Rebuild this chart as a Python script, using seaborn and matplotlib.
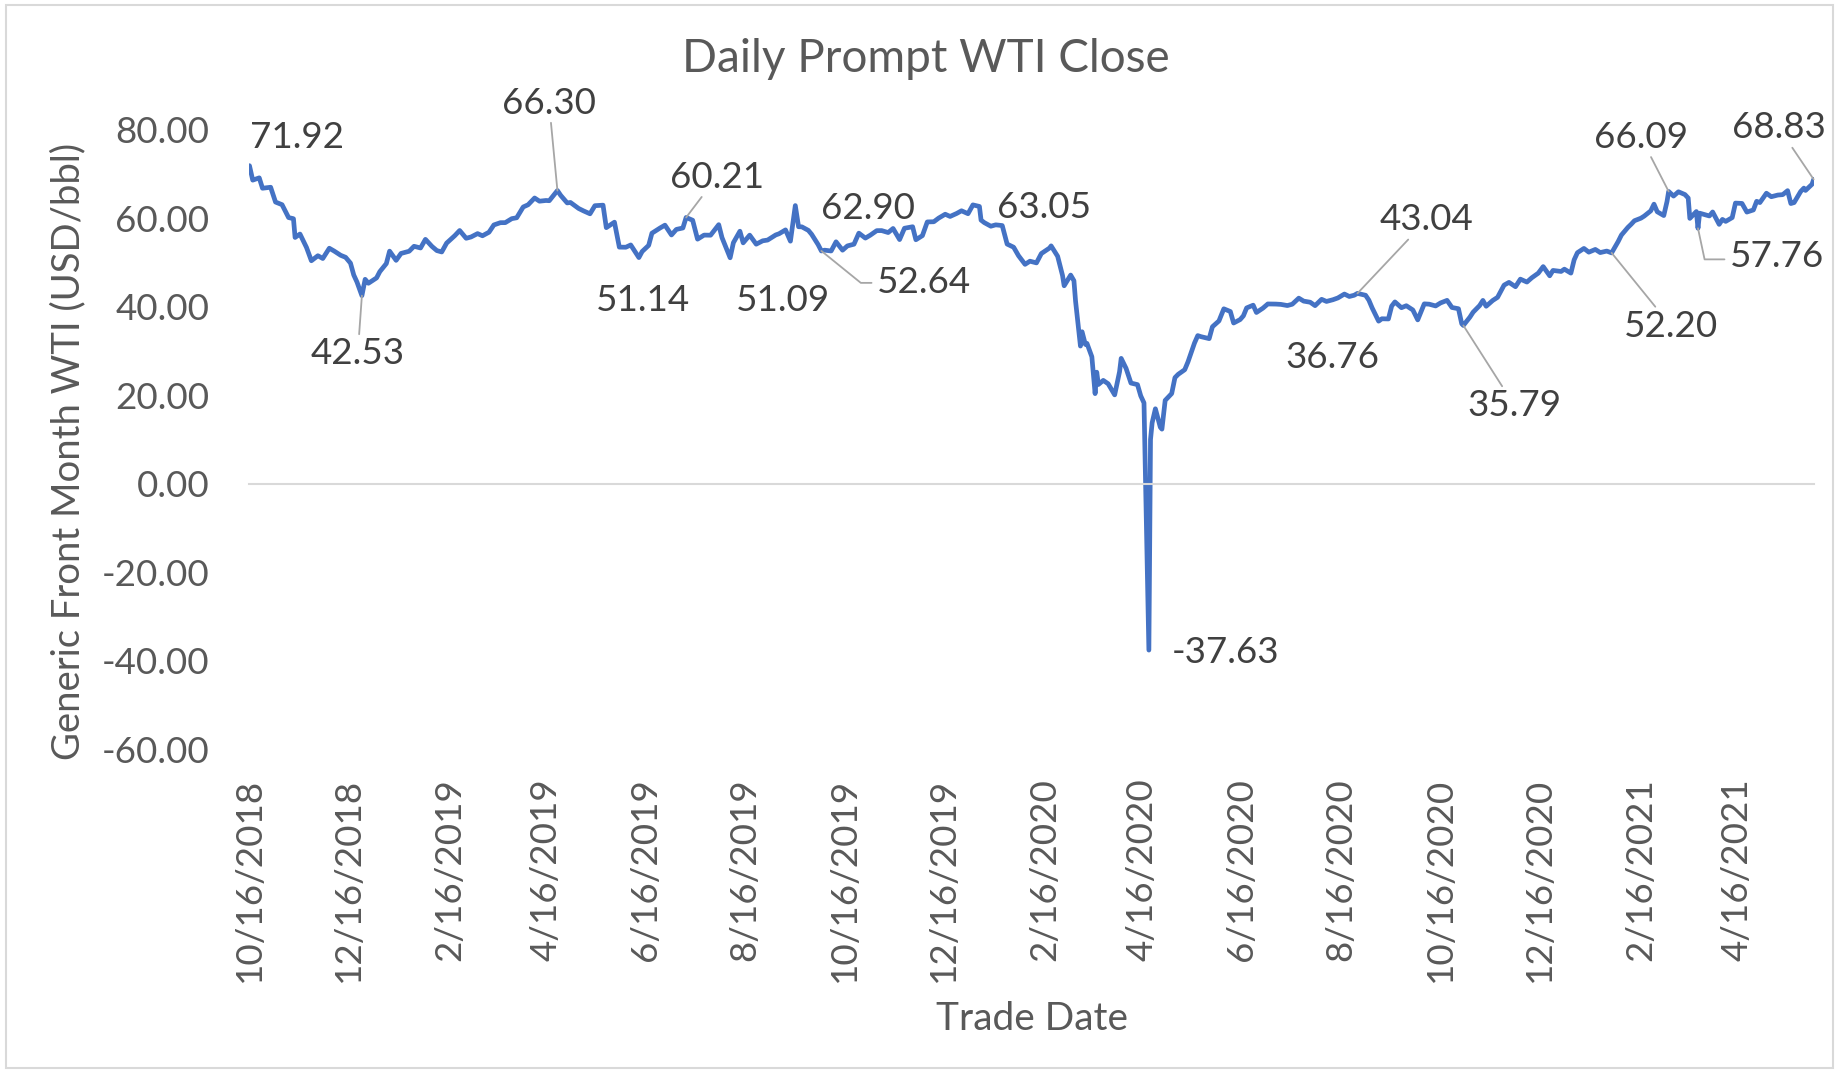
import pandas as pd
import matplotlib
matplotlib.use("Agg")
import matplotlib.pyplot as plt
import matplotlib.dates as mdates
from matplotlib.patches import Rectangle
from matplotlib.ticker import FuncFormatter
import seaborn as sns

# ---------------------------------------------------------
# Datos: cierre diario WTI mes frontal (muestra)
# ---------------------------------------------------------
fechas_2018 = ["2018-10-16", "2018-10-18", "2018-10-22", "2018-10-24", "2018-10-29",
               "2018-11-01", "2018-11-05", "2018-11-09", "2018-11-12", "2018-11-13",
               "2018-11-16", "2018-11-20", "2018-11-23", "2018-11-27", "2018-11-30",
               "2018-12-04", "2018-12-07", "2018-12-11", "2018-12-14", "2018-12-17",
               "2018-12-19", "2018-12-21", "2018-12-24", "2018-12-26", "2018-12-28"]
precios_2018 = [71.92, 68.65, 69.17, 66.82, 67.04,
                63.69, 63.10, 60.19, 59.93, 55.69,
                56.46, 53.43, 50.42, 51.56, 50.93,
                53.25, 52.61, 51.65, 51.20, 49.88,
                47.20, 45.59, 42.53, 46.22, 45.33]

fechas_2019 = ["2019-01-02", "2019-01-04", "2019-01-08", "2019-01-10", "2019-01-14",
               "2019-01-17", "2019-01-22", "2019-01-25", "2019-01-29", "2019-02-01",
               "2019-02-05", "2019-02-08", "2019-02-11", "2019-02-14", "2019-02-19",
               "2019-02-22", "2019-02-26", "2019-03-01", "2019-03-05", "2019-03-08",
               "2019-03-12", "2019-03-15", "2019-03-19", "2019-03-22", "2019-03-26",
               "2019-03-29", "2019-04-02", "2019-04-05", "2019-04-09", "2019-04-12",
               "2019-04-16", "2019-04-18", "2019-04-23", "2019-04-25", "2019-04-29",
               "2019-05-01", "2019-05-06", "2019-05-09", "2019-05-13", "2019-05-16",
               "2019-05-21", "2019-05-23", "2019-05-28", "2019-05-31", "2019-06-04",
               "2019-06-07", "2019-06-12", "2019-06-14", "2019-06-18", "2019-06-20",
               "2019-06-25", "2019-06-28", "2019-07-02", "2019-07-05", "2019-07-09",
               "2019-07-11", "2019-07-15", "2019-07-18", "2019-07-22", "2019-07-26",
               "2019-07-31", "2019-08-02", "2019-08-07", "2019-08-09", "2019-08-13",
               "2019-08-15", "2019-08-19", "2019-08-23", "2019-08-27", "2019-08-30",
               "2019-09-04", "2019-09-06", "2019-09-10", "2019-09-13", "2019-09-16",
               "2019-09-18", "2019-09-20", "2019-09-24", "2019-09-26", "2019-09-30",
               "2019-10-02", "2019-10-04", "2019-10-08", "2019-10-11", "2019-10-15",
               "2019-10-18", "2019-10-22", "2019-10-25", "2019-10-29", "2019-11-01",
               "2019-11-05", "2019-11-08", "2019-11-12", "2019-11-15", "2019-11-19",
               "2019-11-22", "2019-11-27", "2019-11-29", "2019-12-03", "2019-12-06",
               "2019-12-10", "2019-12-13", "2019-12-17", "2019-12-20", "2019-12-24",
               "2019-12-27", "2019-12-31"]
precios_2019 = [46.54, 47.96, 49.78, 52.59, 50.51,
                52.07, 52.57, 53.69, 53.31, 55.26,
                53.66, 52.72, 52.41, 54.41, 56.09,
                57.26, 55.50, 55.80, 56.56, 56.07,
                56.87, 58.52, 59.03, 59.04, 59.94,
                60.14, 62.58, 63.08, 64.61, 63.89,
                64.05, 64.00, 66.30, 65.21, 63.50,
                63.60, 62.25, 61.70, 61.04, 62.87,
                62.99, 57.91, 59.14, 53.50, 53.48,
                53.99, 51.14, 52.51, 53.90, 56.65,
                57.83, 58.47, 56.25, 57.51, 57.83,
                60.21, 59.58, 55.30, 56.22, 56.20,
                58.58, 55.66, 51.09, 54.50, 57.10,
                54.47, 56.21, 54.17, 54.93, 55.10,
                56.26, 56.52, 57.40, 54.85, 62.90,
                58.11, 58.09, 57.29, 56.41, 54.07,
                52.64, 52.81, 52.63, 54.70, 52.81,
                53.78, 54.16, 56.66, 55.54, 56.20,
                57.23, 57.24, 56.80, 57.72, 55.21,
                57.77, 58.11, 55.17, 56.10, 59.20,
                59.24, 60.07, 60.94, 60.44, 61.11,
                61.72, 61.06]

fechas_2020 = ["2020-01-03", "2020-01-07", "2020-01-08", "2020-01-10", "2020-01-14",
               "2020-01-17", "2020-01-21", "2020-01-24", "2020-01-28", "2020-01-31",
               "2020-02-04", "2020-02-07", "2020-02-11", "2020-02-14", "2020-02-19",
               "2020-02-20", "2020-02-24", "2020-02-27", "2020-02-28", "2020-03-03",
               "2020-03-05", "2020-03-06", "2020-03-09", "2020-03-10", "2020-03-12",
               "2020-03-13", "2020-03-16", "2020-03-18", "2020-03-19", "2020-03-20",
               "2020-03-23", "2020-03-26", "2020-03-30", "2020-04-02", "2020-04-03",
               "2020-04-06", "2020-04-09", "2020-04-13", "2020-04-15", "2020-04-17",
               "2020-04-20", "2020-04-21", "2020-04-22", "2020-04-24", "2020-04-27",
               "2020-04-28", "2020-04-30", "2020-05-04", "2020-05-06", "2020-05-08",
               "2020-05-12", "2020-05-14", "2020-05-18", "2020-05-20", "2020-05-22",
               "2020-05-27", "2020-05-29", "2020-06-02", "2020-06-05", "2020-06-09",
               "2020-06-11", "2020-06-15", "2020-06-17", "2020-06-19", "2020-06-23",
               "2020-06-25", "2020-06-29", "2020-07-02", "2020-07-07", "2020-07-10",
               "2020-07-14", "2020-07-17", "2020-07-21", "2020-07-24", "2020-07-28",
               "2020-07-31", "2020-08-04", "2020-08-07", "2020-08-11", "2020-08-14",
               "2020-08-18", "2020-08-21", "2020-08-24", "2020-08-26", "2020-08-31",
               "2020-09-02", "2020-09-04", "2020-09-08", "2020-09-10", "2020-09-14",
               "2020-09-16", "2020-09-18", "2020-09-22", "2020-09-25", "2020-09-29",
               "2020-10-02", "2020-10-06", "2020-10-09", "2020-10-13", "2020-10-16",
               "2020-10-20", "2020-10-23", "2020-10-27", "2020-10-29", "2020-10-30",
               "2020-11-03", "2020-11-05", "2020-11-09", "2020-11-11", "2020-11-13",
               "2020-11-17", "2020-11-20", "2020-11-24", "2020-11-27", "2020-12-01",
               "2020-12-04", "2020-12-08", "2020-12-11", "2020-12-15", "2020-12-18",
               "2020-12-22", "2020-12-24", "2020-12-29", "2020-12-31"]
precios_2020 = [63.05, 62.70, 59.61, 59.04, 58.23,
                58.54, 58.38, 54.19, 53.48, 51.56,
                49.61, 50.32, 49.94, 52.05, 53.29,
                53.78, 51.43, 47.09, 44.76, 47.18,
                45.90, 41.28, 31.13, 34.36, 31.50,
                31.73, 28.70, 20.37, 25.22, 22.43,
                23.36, 22.60, 20.09, 25.32, 28.34,
                26.08, 22.76, 22.41, 19.87, 18.27,
                -37.63, 10.01, 13.78, 16.94, 12.78,
                12.34, 18.84, 20.39, 23.99, 24.74,
                25.78, 27.56, 31.82, 33.49, 33.25,
                32.81, 35.49, 36.81, 39.55, 38.94,
                36.34, 37.12, 37.96, 39.75, 40.37,
                38.72, 39.70, 40.65, 40.62, 40.55,
                40.29, 40.59, 41.96, 41.29, 41.04,
                40.27, 41.70, 41.22, 41.61, 42.01,
                42.89, 42.34, 42.62, 43.04, 42.61,
                41.51, 39.77, 36.76, 37.30, 37.26,
                40.16, 41.11, 39.80, 40.25, 39.29,
                37.05, 40.67, 40.60, 40.20, 40.88,
                41.46, 39.85, 39.57, 36.17, 35.79,
                37.66, 38.79, 40.29, 41.45, 40.13,
                41.43, 42.15, 44.91, 45.53, 44.55,
                46.26, 45.60, 46.57, 47.62, 49.10,
                47.02, 48.23, 48.00, 48.52]

fechas_2021 = ["2021-01-04", "2021-01-06", "2021-01-08", "2021-01-12", "2021-01-15",
               "2021-01-19", "2021-01-22", "2021-01-26", "2021-01-29", "2021-02-02",
               "2021-02-04", "2021-02-08", "2021-02-10", "2021-02-12", "2021-02-16",
               "2021-02-18", "2021-02-22", "2021-02-24", "2021-02-26", "2021-03-02",
               "2021-03-04", "2021-03-05", "2021-03-08", "2021-03-11", "2021-03-15",
               "2021-03-17", "2021-03-18", "2021-03-22", "2021-03-23", "2021-03-24",
               "2021-03-26", "2021-03-30", "2021-04-01", "2021-04-05", "2021-04-07",
               "2021-04-09", "2021-04-13", "2021-04-15", "2021-04-19", "2021-04-22",
               "2021-04-26", "2021-04-28", "2021-04-30", "2021-05-04", "2021-05-07",
               "2021-05-11", "2021-05-14", "2021-05-17", "2021-05-19", "2021-05-21",
               "2021-05-25", "2021-05-27", "2021-05-28", "2021-06-01", "2021-06-02"]
precios_2021 = [47.62, 50.63, 52.24, 53.21, 52.36,
                52.98, 52.27, 52.61, 52.20, 54.76,
                56.23, 57.97, 58.68, 59.47, 60.05,
                60.52, 61.70, 63.22, 61.50, 60.64,
                63.83, 66.09, 65.05, 66.02, 65.39,
                64.60, 60.00, 61.55, 57.76, 61.18,
                60.97, 60.55, 61.45, 58.65, 59.77,
                59.32, 60.18, 63.46, 63.38, 61.43,
                61.91, 63.86, 63.58, 65.69, 64.90,
                65.28, 65.37, 66.27, 63.36, 63.58,
                66.07, 66.85, 66.32, 67.72, 68.83]

# fechas con etiqueta de dato
fechas_etiquetas = ["2018-10-16", "2018-12-24", "2019-04-23", "2019-06-12", "2019-07-11",
                    "2019-08-07", "2019-09-16", "2019-10-02", "2020-01-03", "2020-04-20",
                    "2020-08-26", "2020-09-08", "2020-10-30", "2021-01-29", "2021-03-05",
                    "2021-03-23", "2021-06-02"]

# posición de cada etiqueta respecto a su punto (pt) y tipo de línea guía
colocacion = [(34, 20, None), (-3, -42, "recta"), (-6, 63, "recta"), (3, -31, None),
              (22, 29, "recta"), (38, -31, None), (52, -2, None), (74, -23, "codo52"),
              (51, -2, None), (55, -2, None), (50, 53, "recta"), (-33, -26, None),
              (37, -58, "recta"), (43, -53, "recta"), (-20, 39, "recta"),
              (57, -20, "codo57"), (-25, 37, "recta")]

AZUL = "#4472C4"
GRIS_TEXTO = "#595959"
GRIS_ETIQ = "#404040"
GRIS_EJE = "#D9D9D9"
GRIS_GUIA = "#A6A6A6"
TAM = 26.5


def fecha_mdy(x, pos=None):
    d = mdates.num2date(x)
    return f"{d.month}/{d.day}/{d.year}"


def crear_grafico():
    df = pd.DataFrame({
        "fecha": pd.to_datetime(fechas_2018 + fechas_2019 + fechas_2020 + fechas_2021),
        "precio": precios_2018 + precios_2019 + precios_2020 + precios_2021,
    })
    serie = df.set_index("fecha")["precio"]

    sns.set_theme(style="white")
    plt.rcParams["font.family"] = ["Lato", "DejaVu Sans"]
    plt.rcParams["axes.unicode_minus"] = False

    fig, ax = plt.subplots(figsize=(18.37, 10.74), dpi=100)
    fig.subplots_adjust(left=0.1358, right=0.9873, bottom=0.3026, top=0.879)

    sns.lineplot(data=df, x="fecha", y="precio", color=AZUL, linewidth=3.4,
                 solid_joinstyle="round", solid_capstyle="round", ax=ax)

    ax.set_xlim(pd.Timestamp("2018-10-16"), pd.Timestamp("2021-06-02"))
    ax.set_ylim(-60, 80)
    ax.set_yticks(range(-60, 81, 20))
    ax.yaxis.set_major_formatter(FuncFormatter(lambda v, p: f"{v:.2f}"))
    ax.tick_params(axis="y", length=0, pad=29, labelsize=TAM, labelcolor=GRIS_TEXTO)

    # eje horizontal cruzando en cero, etiquetas abajo
    for lado in ["left", "right", "top"]:
        ax.spines[lado].set_visible(False)
    ax.spines["bottom"].set_position(("data", 0))
    ax.spines["bottom"].set_color(GRIS_EJE)
    ax.spines["bottom"].set_linewidth(1.5)
    ax.xaxis.set_major_locator(mdates.MonthLocator(bymonth=[2, 4, 6, 8, 10, 12], bymonthday=16))
    ax.tick_params(axis="x", direction="out", length=10, width=1.5, color=GRIS_EJE,
                   labelbottom=False)

    sec = ax.secondary_xaxis("bottom")
    sec.xaxis.set_major_locator(mdates.MonthLocator(bymonth=[2, 4, 6, 8, 10, 12], bymonthday=16))
    sec.xaxis.set_major_formatter(FuncFormatter(fecha_mdy))
    sec.tick_params(axis="x", length=0, pad=21, labelsize=TAM, labelcolor=GRIS_TEXTO,
                    labelrotation=90)
    sec.spines["bottom"].set_visible(False)

    ax.set_xlabel("Trade Date", fontsize=28, color=GRIS_TEXTO, va="center")
    ax.xaxis.set_label_coords(0.5, -0.436)
    ax.set_ylabel("Generic Front Month WTI (USD/bbl)", fontsize=27.5, color=GRIS_TEXTO,
                  va="center")
    ax.yaxis.set_label_coords(-0.116, 0.481)

    fig.suptitle("Daily Prompt WTI Close", x=0.5038, y=0.9454, va="center",
                 fontsize=33, color=GRIS_TEXTO)

    # etiquetas de datos
    for fecha, (dx, dy, guia) in zip(fechas_etiquetas, colocacion):
        f = pd.Timestamp(fecha)
        valor = serie.loc[f]
        flecha = None
        if guia == "recta":
            flecha = dict(arrowstyle="-", color=GRIS_GUIA, lw=1.3, shrinkA=0, shrinkB=0)
        elif guia == "codo52":
            flecha = dict(arrowstyle="-", color=GRIS_GUIA, lw=1.3, shrinkA=4, shrinkB=0,
                          relpos=(0, 0.5), patchA=None,
                          connectionstyle="angle,angleA=0,angleB=-39,rad=0")
        elif guia == "codo57":
            flecha = dict(arrowstyle="-", color=GRIS_GUIA, lw=1.3, shrinkA=4, shrinkB=0,
                          relpos=(0, 0.4), patchA=None,
                          connectionstyle="angle,angleA=0,angleB=-78,rad=0")
        ax.annotate(f"{valor:.2f}", xy=(mdates.date2num(f), valor), xytext=(dx, dy),
                    textcoords="offset points", ha="center", va="center",
                    fontsize=TAM, color=GRIS_ETIQ, arrowprops=flecha)

    fig.patches.append(Rectangle((0.0033, 0.0056), 0.9945, 0.9897, transform=fig.transFigure,
                                 fill=False, edgecolor=GRIS_EJE, linewidth=1.5))

    fig.savefig("out.png", dpi=100)


if __name__ == "__main__":
    crear_grafico()
